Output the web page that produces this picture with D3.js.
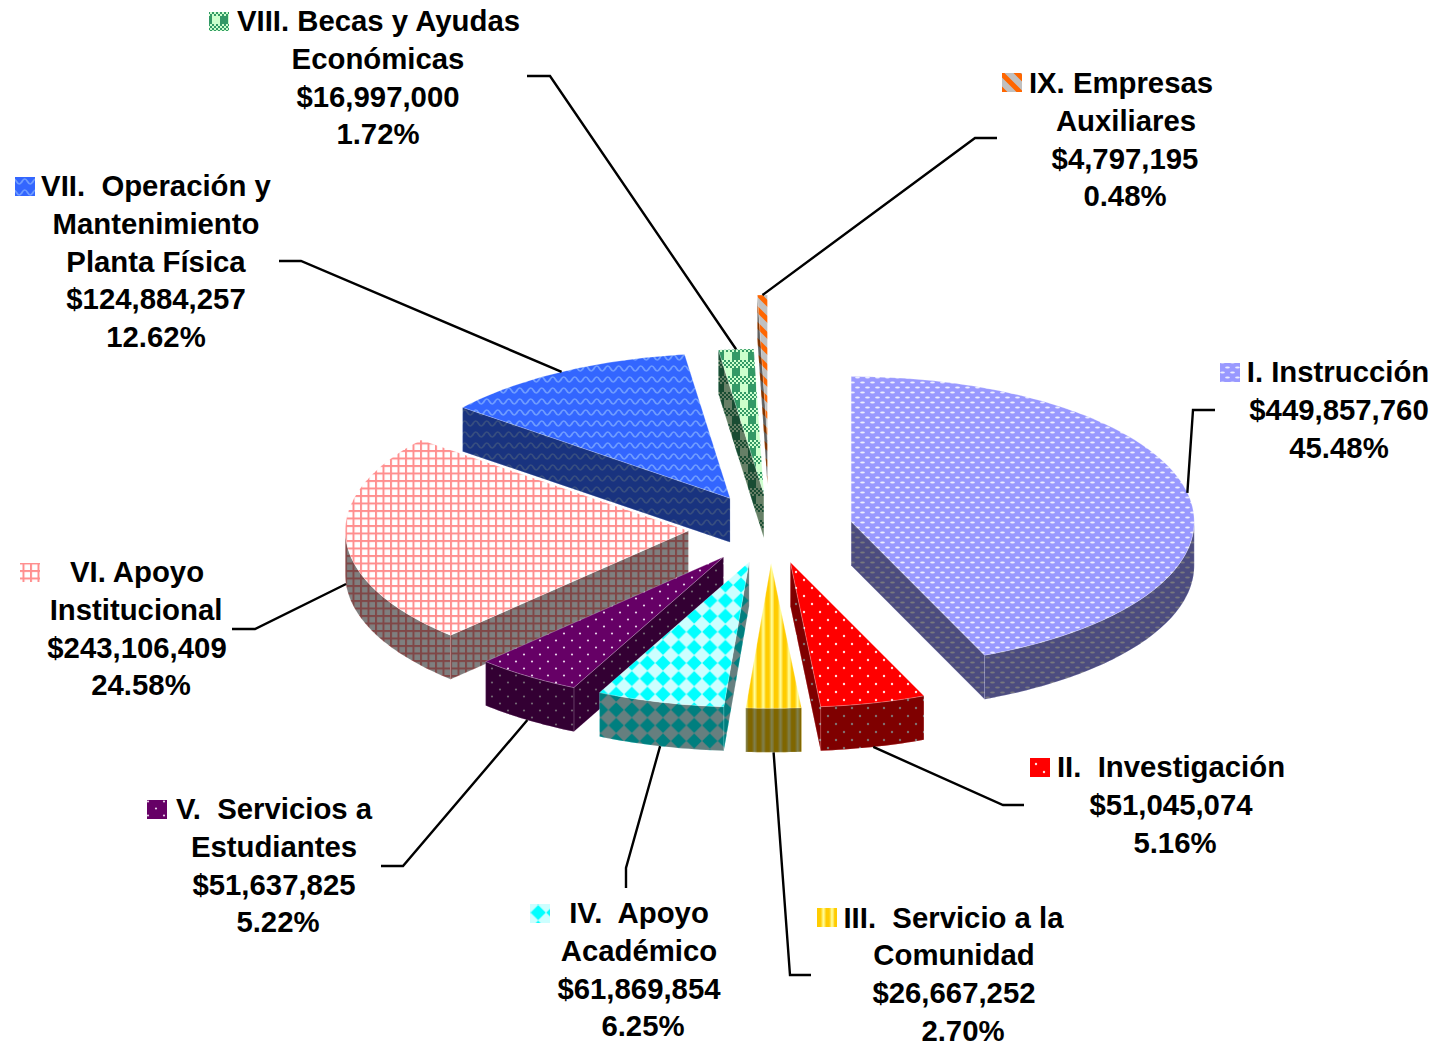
<!DOCTYPE html>
<html><head><meta charset="utf-8">
<script src="https://cdn.jsdelivr.net/npm/d3@7/dist/d3.min.js"></script>
<style>
html,body{margin:0;padding:0;background:#fff;overflow:hidden}
svg{display:block}
text{font-family:"Liberation Sans",Arial,sans-serif;font-weight:700;font-size:29.33px;fill:#000;white-space:pre;text-anchor:middle}
</style></head><body>
<svg id="c" width="1435" height="1046"></svg>
<script>
// ---- data ----
const categories = [
  ["I. Instrucción"],
  ["II.  Investigación"],
  ["III.  Servicio a la","Comunidad"],
  ["IV.  Apoyo","Académico"],
  ["V.  Servicios a","Estudiantes"],
  ["VI. Apoyo","Institucional"],
  ["VII.  Operación y","Mantenimiento","Planta Física"],
  ["VIII. Becas y Ayudas","Económicas"],
  ["IX. Empresas","Auxiliares"]
];
const values   = [449857760,51045074,26667252,61869854,51637825,243106409,124884257,16997000,4797195];
const percents = ["45.48%","5.16%","2.70%","6.25%","5.22%","24.58%","12.62%","1.72%","0.48%"];
const explosion= [0.24,0.24,0.24,0.24,0.24,0.24,0.24,0.24,0.61];
const patternIds=["pI","pII","pIII","pIV","pV","pVI","pVII","pVIII","pIX"];
const drawOrder= [8,7,6,5,0,4,3,1,2];

// ---- layout ----
const W=1435,H=1046, cx=770.5, cy=528.5, rx=343, ry=145, depth=44, lineH=37.75;
// per label: x centre of every line, first baseline, key box x/y, leader elbow and end
const labelX=[[1338,1339,1339],[1171,1171,1175],[953.5,954,954,963],[639,639,639,643],[274,274,274,278],[137,136,137,141],[156,156,156,156,156],[378.5,378,378,378],[1121,1126,1125,1125]];
const labelY=[382,777,927.5,923,819,582,196,31,93];
const keyPos=[[1220,363],[1030,758],[817,908],[530,904],[147,800],[20,563],[15,177],[209,12],[1002,73]];
const leaders=[[[1193,410],[1215,410]],[[1003,805],[1024,805]],[[790,975],[811,975]],[[626,868],[626,888]],[[403,866],[381,866]],[[255,629],[232,629]],[[301,261],[279,261]],[[550,76],[527,76]],[[975,138],[997,138]]];

const svg=d3.select("#c");
const defs=svg.append("defs");
function pat(id,w,h,draw){
  const p=defs.append("pattern").attr("id",id).attr("patternUnits","userSpaceOnUse").attr("width",w).attr("height",h);
  draw(p); return p;
}
const rect=(p,x,y,w,h,f)=>p.append("rect").attr("x",x).attr("y",y).attr("width",w).attr("height",h).attr("fill",f);
const dot=(p,x,y,r,f)=>p.append("circle").attr("cx",x).attr("cy",y).attr("r",r).attr("fill",f);
const ell=(p,x,y,a,b,f)=>p.append("ellipse").attr("cx",x).attr("cy",y).attr("rx",a).attr("ry",b).attr("fill",f);
pat("pI",10,10,p=>{rect(p,0,0,10,10,"#9999ff");
  [[2.5,2.5],[7.5,7.5],[12.5,2.5],[-2.5,7.5]].forEach(c=>ell(p,c[0],c[1],2.4,1,"#eeeeff"));});
pat("pII",16,16,p=>{rect(p,0,0,16,16,"#ff0000");dot(p,4,4,1.2,"#ffe0e0");dot(p,12,12,1.2,"#ffe0e0");});
pat("pIII",8.6,8,p=>{rect(p,0,0,8.6,8,"#ffcc00");rect(p,4.3,0,1,8,"#ffe24d");rect(p,5.3,0,2.2,8,"#ffff99");rect(p,7.5,0,1.1,8,"#ffe24d");});
pat("pIV",15.6,15.6,p=>{rect(p,0,0,15.6,15.6,"#ccffff");
  p.append("path").attr("d","M0.2,7.8L7.8,0.2L15.4,7.8L7.8,15.4Z").attr("fill","#00ffff");});
pat("pV",16,14,p=>{rect(p,0,0,16,14,"#660066");dot(p,4,3.5,1.1,"#e8d0e8");dot(p,12,10.5,1.1,"#e8d0e8");});
pat("pVI",7.5,7.5,p=>{rect(p,0,0,7.5,7.5,"#ffffff");rect(p,0,0,2,7.5,"#ff8f8f");rect(p,0,0,7.5,2,"#ff8f8f");});
pat("pVII",11,11,p=>{rect(p,0,0,11,11,"#3366ff");
  p.append("path").attr("d","M-5.5,5.5Q-2.75,10.5 0,5.5T5.5,5.5T11,5.5T16.5,5.5").attr("fill","none").attr("stroke","#6f9cff").attr("stroke-width",1.7);});
pat("pVIII",16,16,p=>{rect(p,0,0,16,16,"#ccffcc");rect(p,0,0,4,8,"#339966");rect(p,12,0,4,8,"#339966");
  d3.range(0,16,2).forEach(x=>d3.range(8,16,2).forEach(y=>{if(((x+y)/2)%2===0) rect(p,x,y,2,2,"#339966");}));});
pat("pIX",16,16,p=>{rect(p,0,0,16,16,"#c0c0c0");
  p.append("path").attr("d","M-4,-4L20,20M-4,12L4,20M12,-4L20,4").attr("stroke","#ff6600").attr("stroke-width",5).attr("fill","none");});

// ---- geometry ----
const pie=d3.pie().sort(null).value(d=>d)(values);
const toX=d3.scaleLinear().domain([-1,1]).range([-rx,rx]);
const toY=d3.scaleLinear().domain([-1,1]).range([-ry,ry]);
const lineGen=d3.line();
const slices=pie.map((p,i)=>{
  const mid=(p.startAngle+p.endAngle)/2, e=explosion[i];
  const ax=cx+toX(e*Math.sin(mid)), ay=cy+toY(-e*Math.cos(mid));
  const at=a=>[ax+toX(Math.sin(a)),ay+toY(-Math.cos(a))];
  return {i,a0:p.startAngle,a1:p.endAngle,mid,apex:[ax,ay],at};
});
const down=(q)=>[q[0],q[1]+depth];
function sweep(s,from,to){
  const n=Math.max(2,Math.ceil((to-from)/(Math.PI/180)));
  return d3.range(n+1).map(k=>s.at(from+(to-from)*k/n));
}
function walls(s){
  const out=[], ap=s.apex, p0=s.at(s.a0), p1=s.at(s.a1);
  if(p0[0]<ap[0]) out.push([ap,p0,down(p0),down(ap)]);       // cut face at start angle
  if(ap[0]<p1[0]) out.push([p1,ap,down(ap),down(p1)]);       // cut face at end angle
  const lo=Math.max(s.a0,Math.PI/2), hi=Math.min(s.a1,3*Math.PI/2);
  if(hi>lo){const t=sweep(s,lo,hi); out.push(t.concat(t.map(down).reverse()));}
  return out;
}
// ---- marks ----
const gPie=svg.append("g");
drawOrder.forEach(idx=>{
  const s=slices[idx], g=gPie.append("g"), fill=`url(#${patternIds[idx]})`;
  walls(s).forEach(w=>{
    const d=lineGen(w)+"Z";
    g.append("path").attr("d",d).attr("fill",fill);
    g.append("path").attr("d",d).attr("fill","#000").attr("fill-opacity",.5)
      .attr("stroke","#fff").attr("stroke-opacity",.25).attr("stroke-width",.6);
  });
  const top=[s.apex].concat(sweep(s,s.a0,s.a1));
  g.append("path").attr("d",lineGen(top)+"Z").attr("fill",fill)
    .attr("stroke","#fff").attr("stroke-opacity",.35).attr("stroke-width",.7);
});
// leaders
const gLead=svg.append("g");
slices.forEach(s=>{
  let st=s.at(s.mid);
  if(s.mid>Math.PI/2&&s.mid<3*Math.PI/2) st=down(st);
  gLead.append("path").attr("d",lineGen([st].concat(leaders[s.i])))
    .attr("fill","none").attr("stroke","#000").attr("stroke-width",2.4);
});
// labels
const fmt=d3.format("$,");
categories.forEach((cat,i)=>{
  const lines=cat.concat([fmt(values[i]),percents[i]]);
  const g=svg.append("g");
  g.selectAll("text").data(lines).join("text")
    .attr("x",(d,k)=>labelX[i][k]).attr("y",(d,k)=>labelY[i]+k*lineH).text(d=>d);
  g.append("rect").attr("x",keyPos[i][0]).attr("y",keyPos[i][1]).attr("width",20).attr("height",19)
    .attr("fill",`url(#${patternIds[i]})`);
});
</script></body></html>
